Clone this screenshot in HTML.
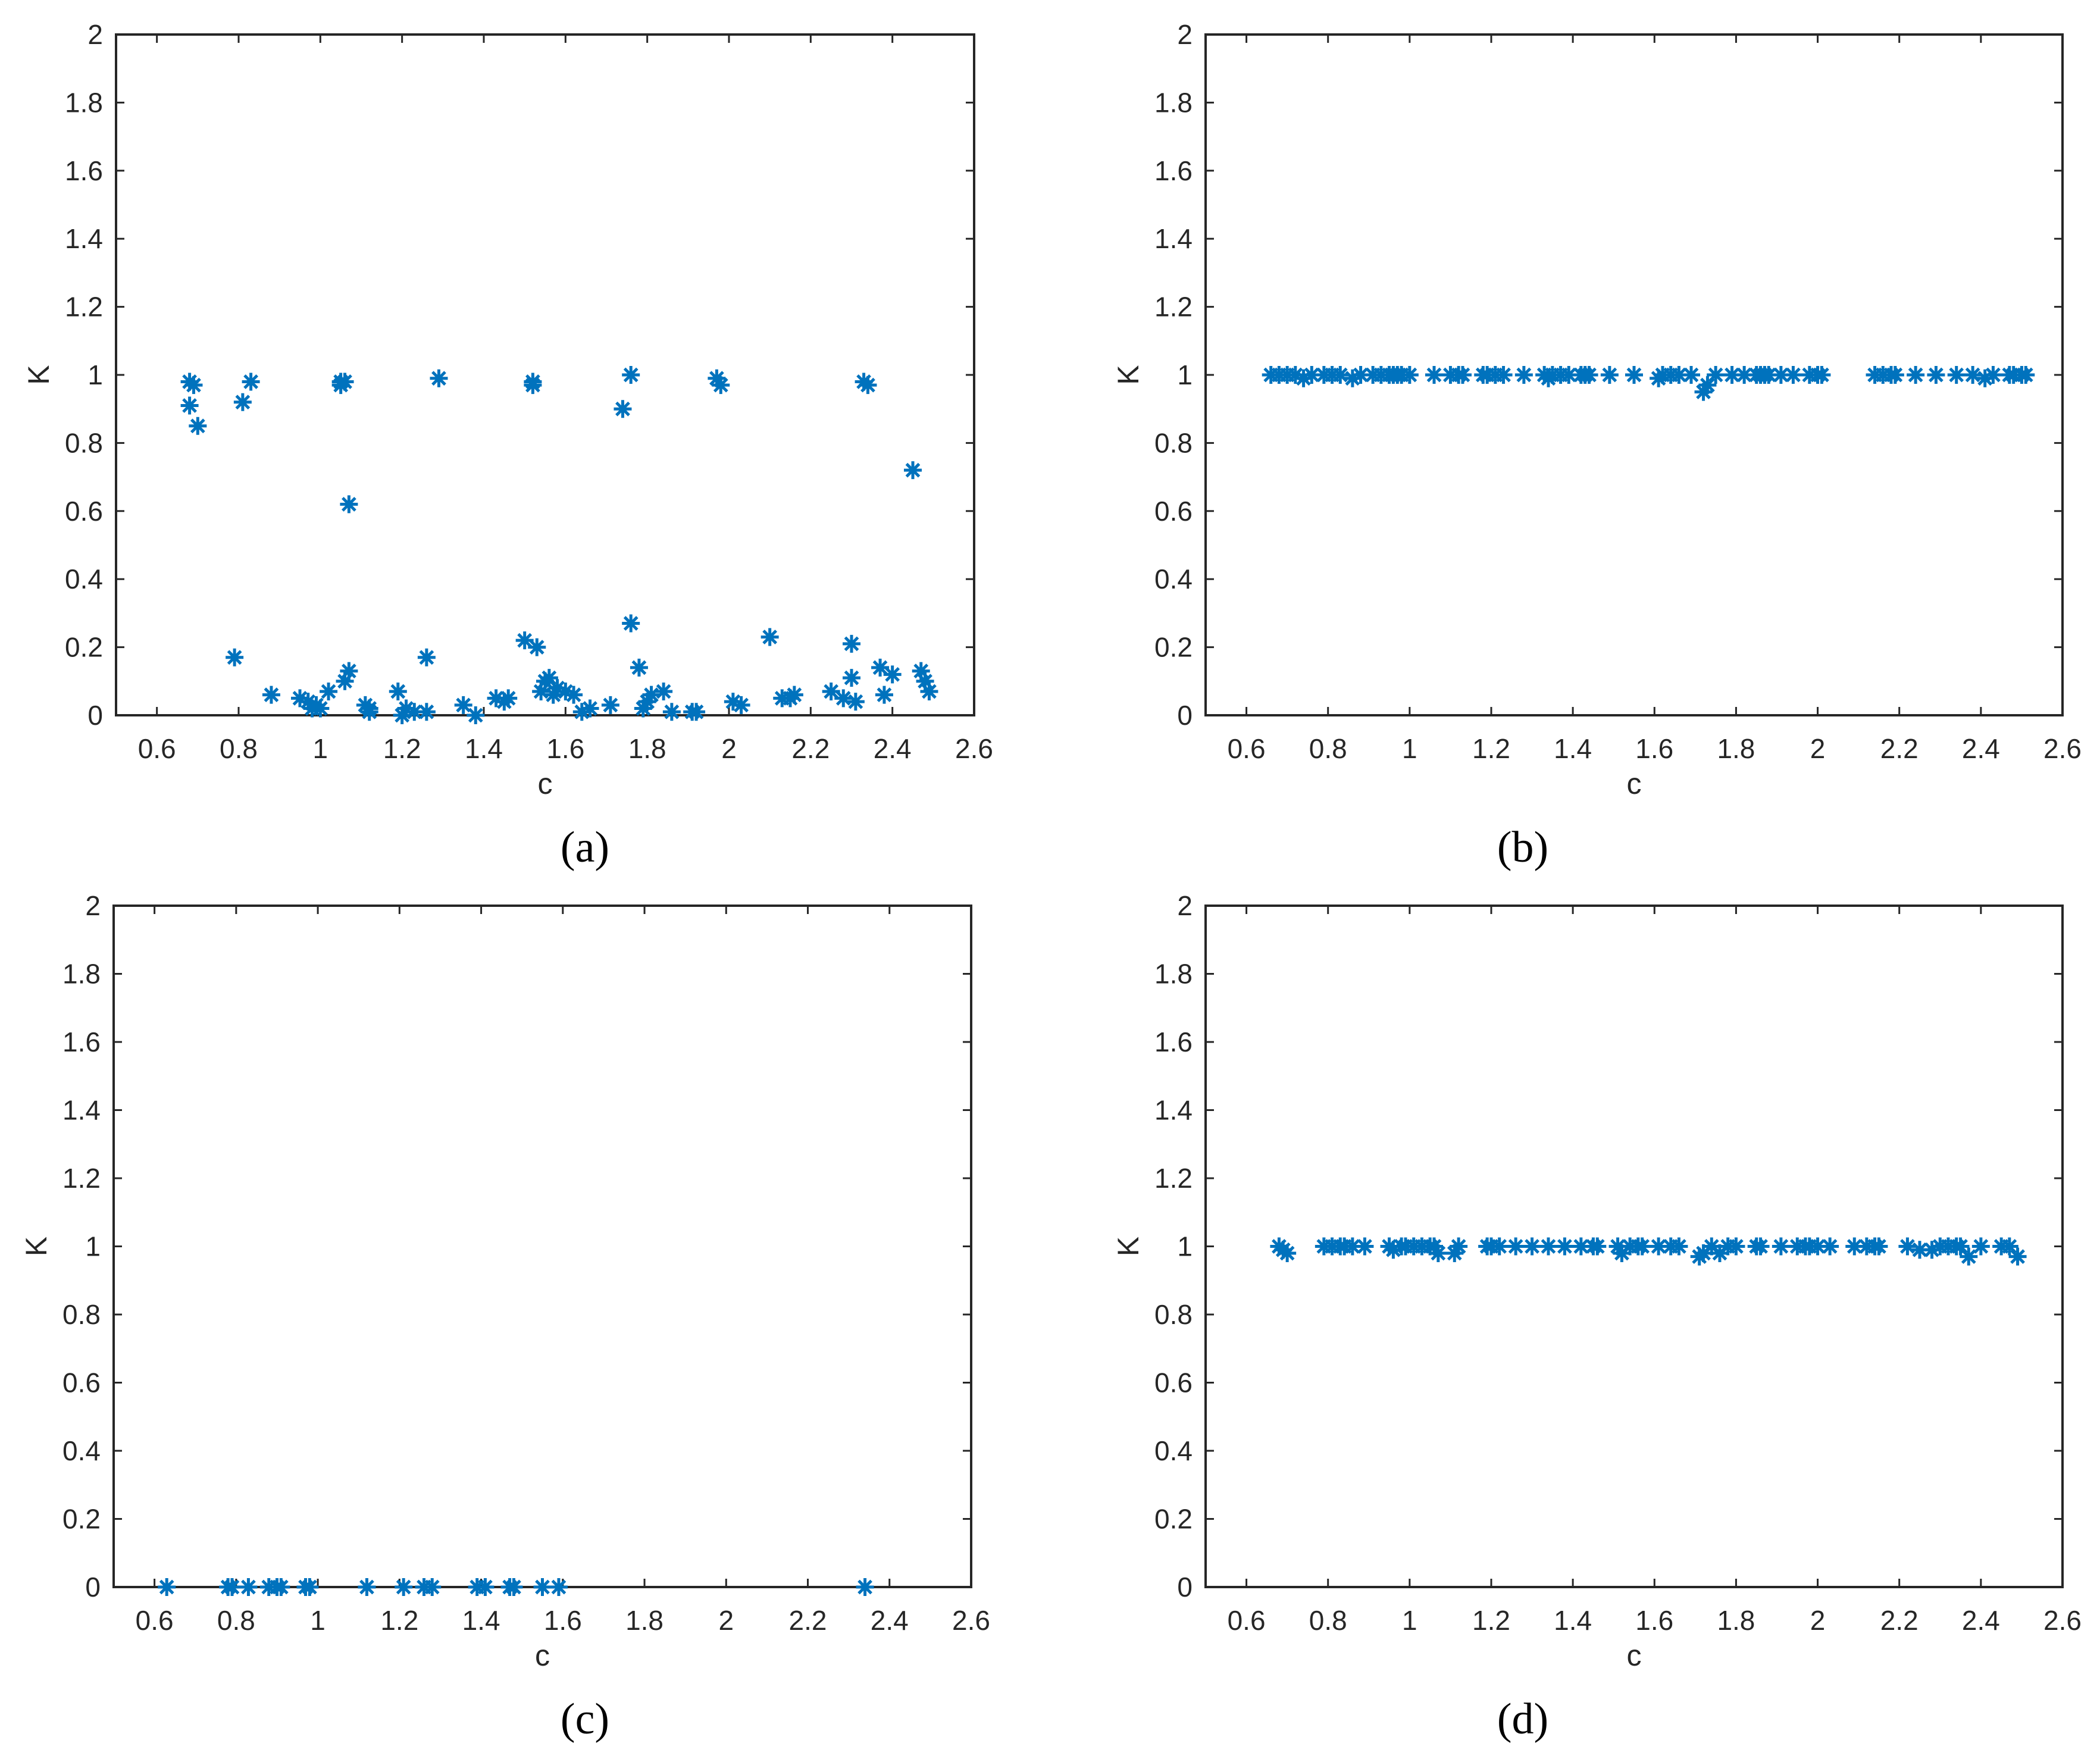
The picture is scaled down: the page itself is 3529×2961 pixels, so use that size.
<!DOCTYPE html>
<html><head><meta charset="utf-8"><style>html,body{margin:0;padding:0;background:#fff}svg{display:block}</style></head>
<body>
<svg id="fig" width="3529" height="2961" viewBox="0 0 3529 2961" xmlns="http://www.w3.org/2000/svg"></svg>
<script>
const xTicks=[0.6,0.8,1,1.2,1.4,1.6,1.8,2,2.2,2.4,2.6];
const yTicks=[0,0.2,0.4,0.6,0.8,1,1.2,1.4,1.6,1.8,2];
const aC=[0.68,0.69,0.68,0.70,0.81,0.83,1.05,1.06,1.05,1.07,1.29,1.52,1.52,1.74,1.76,1.97,1.98,2.33,2.34,2.45,
0.79,0.88,0.95,0.97,0.98,0.99,1.00,1.02,1.06,1.07,1.11,1.12,1.12,1.19,1.21,1.20,1.23,1.26,1.26,1.35,1.38,1.43,1.45,1.46,1.50,1.53,1.54,1.55,1.56,1.57,1.58,1.60,1.62,1.64,1.66,1.71,1.76,1.78,1.79,1.80,1.81,1.84,1.86,1.91,1.92,2.01,2.03,2.10,2.13,2.15,2.16,2.25,2.28,2.30,2.30,2.31,2.37,2.38,2.40,2.47,2.48,2.49];
const aK=[0.98,0.97,0.91,0.85,0.92,0.98,0.98,0.98,0.97,0.62,0.99,0.98,0.97,0.90,1.00,0.99,0.97,0.98,0.97,0.72,
0.17,0.06,0.05,0.04,0.02,0.03,0.02,0.07,0.10,0.13,0.03,0.01,0.02,0.07,0.02,0.00,0.01,0.17,0.01,0.03,0.00,0.05,0.04,0.05,0.22,0.20,0.07,0.10,0.11,0.06,0.08,0.07,0.06,0.01,0.02,0.03,0.27,0.14,0.02,0.04,0.06,0.07,0.01,0.01,0.01,0.04,0.03,0.23,0.05,0.05,0.06,0.07,0.05,0.21,0.11,0.04,0.14,0.06,0.12,0.13,0.10,0.07];
const bC=[0.66,0.68,0.70,0.72,0.74,0.76,0.79,0.81,0.83,0.86,0.88,0.91,0.93,0.95,0.96,0.97,0.98,1.00,1.06,1.10,1.12,1.13,1.18,1.19,1.21,1.23,1.28,1.33,1.34,1.35,1.37,1.39,1.42,1.43,1.44,1.49,1.55,1.61,1.62,1.64,1.66,1.69,1.72,1.73,1.75,1.79,1.82,1.85,1.86,1.87,1.88,1.91,1.94,1.98,2.00,2.01,2.14,2.16,2.18,2.19,2.24,2.29,2.34,2.38,2.41,2.43,2.47,2.48,2.50,2.51];
const bK=[1,1,1,1,0.99,1,1,1,1,0.99,1,1,1,1,1,1,1,1,1,1,1,1,1,1,1,1,1,1,0.99,1,1,1,1,1,1,1,1,0.99,1,1,1,1,0.95,0.97,1,1,1,1,1,1,1,1,1,1,1,1,1,1,1,1,1,1,1,1,0.99,1,1,1,1,1];
const cC=[0.63,0.78,0.79,0.83,0.88,0.90,0.91,0.97,0.98,1.12,1.21,1.26,1.28,1.39,1.41,1.47,1.48,1.55,1.59,2.34];
const cK=[0,0,0,0,0,0,0,0,0,0,0,0,0,0,0,0,0,0,0,0];
const dC=[0.68,0.69,0.70,0.79,0.81,0.83,0.84,0.86,0.89,0.95,0.96,0.98,0.99,1.01,1.03,1.05,1.06,1.07,1.11,1.12,1.19,1.20,1.22,1.26,1.30,1.34,1.38,1.42,1.45,1.46,1.51,1.52,1.54,1.56,1.57,1.61,1.64,1.66,1.71,1.72,1.74,1.76,1.78,1.80,1.85,1.86,1.91,1.95,1.97,1.98,2.00,2.03,2.09,2.12,2.14,2.15,2.22,2.25,2.28,2.30,2.32,2.34,2.35,2.37,2.40,2.45,2.47,2.49];
const dK=[1,0.99,0.98,1,1,1,1,1,1,1,0.99,1,1,1,1,1,1,0.98,0.98,1,1,1,1,1,1,1,1,1,1,1,1,0.98,1,1,1,1,1,1,0.97,0.98,1,0.98,1,1,1,1,1,1,1,1,1,1,1,1,1,1,1,0.99,0.99,1,1,1,1,0.97,1,1,1,0.97];

const NS='http://www.w3.org/2000/svg';
const svg=document.getElementById('fig');
function el(tag,attrs,parent){const e=document.createElementNS(NS,tag);for(const k in attrs)e.setAttribute(k,attrs[k]);(parent||svg).appendChild(e);return e;}
const panels=[
 {id:'a',L:195,R:1637,T:58,B:1202,cx:983,c:aC,k:aK},
 {id:'b',L:2026,R:3466,T:58,B:1202,cx:2559,c:bC,k:bK},
 {id:'c',L:191,R:1632,T:1522,B:2667,cx:983,c:cC,k:cK},
 {id:'d',L:2026,R:3466,T:1522,B:2667,cx:2559,c:dC,k:dK}
];
panels.forEach(p=>{
 const g=el('g',{});
 
 
 const sx=v=>p.L+(v-0.5)/2.1*(p.R-p.L);
 const sy=v=>p.B-v/2*(p.B-p.T);
 const box=el('rect',{x:p.L,y:p.T,width:p.R-p.L,height:p.B-p.T,fill:'#fff',stroke:'#262626','stroke-width':4},g);
 
 
 const tl=14;
 xTicks.forEach(v=>{
  const x=sx(v);
  el('line',{x1:x,y1:p.B,x2:x,y2:p.B-tl,stroke:'#262626','stroke-width':3},g);
  el('line',{x1:x,y1:p.T,x2:x,y2:p.T+tl,stroke:'#262626','stroke-width':3},g);
  const t=el('text',{x:x,y:p.B+72,'text-anchor':'middle','font-family':'Liberation Sans, sans-serif','font-size':46,fill:'#262626'},g);
  t.textContent=String(v);
  
  
 });
 yTicks.forEach(v=>{
  const y=sy(v);
  el('line',{x1:p.L,y1:y,x2:p.L+tl,y2:y,stroke:'#262626','stroke-width':3},g);
  el('line',{x1:p.R,y1:y,x2:p.R-tl,y2:y,stroke:'#262626','stroke-width':3},g);
  const t=el('text',{x:p.L-22,y:y+16,'text-anchor':'end','font-family':'Liberation Sans, sans-serif','font-size':46,fill:'#262626'},g);
  t.textContent=String(v);
  
  
 });
 const xl=el('text',{x:(p.L+p.R)/2,y:p.B+132,'text-anchor':'middle','font-family':'Liberation Sans, sans-serif','font-size':50,fill:'#262626'},g);
 xl.textContent='c';
 
 
 const yc=(p.T+p.B)/2;
 const yl=el('text',{x:p.L-130,y:yc,'text-anchor':'middle','font-family':'Liberation Sans, sans-serif','font-size':50,fill:'#262626',transform:'rotate(-90 '+(p.L-130)+' '+yc+')'},g);
 yl.setAttribute('dy','17');
 yl.textContent='K';
 
 
 const cap=el('text',{x:p.cx,y:p.B+246,'text-anchor':'middle','font-family':'Liberation Serif, serif','font-size':74,fill:'#000'},g);
 cap.textContent='('+p.id+')';
 
 
 const r=15,d=r*0.707;
 p.c.forEach((cv,i)=>{
  const x=sx(cv),y=sy(p.k[i]);
  const m=el('path',{d:`M${x-r} ${y}H${x+r}M${x} ${y-r}V${y+r}M${x-d} ${y-d}L${x+d} ${y+d}M${x-d} ${y+d}L${x+d} ${y-d}`,stroke:'#0072BD','stroke-width':5,fill:'none'},g);
  
  
 });
});
</script>
</body></html>
